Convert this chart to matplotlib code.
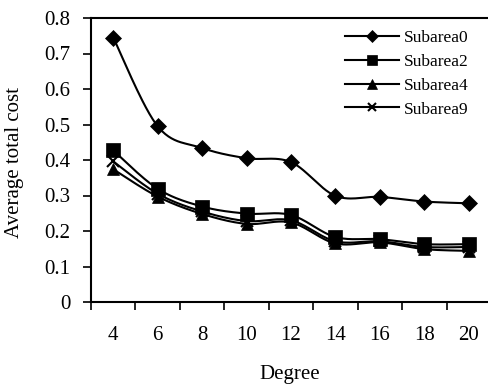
import numpy as np
import matplotlib
matplotlib.use("Agg")
import matplotlib.pyplot as plt
from matplotlib.lines import Line2D

categories = ["4", "6", "8", "10", "12", "14", "16", "18", "20"]
subarea0 = [0.745, 0.495, 0.434, 0.405, 0.394, 0.299, 0.296, 0.283, 0.278]
subarea2 = [0.427, 0.319, 0.269, 0.249, 0.245, 0.183, 0.177, 0.163, 0.163]
subarea4 = [0.374, 0.297, 0.248, 0.220, 0.224, 0.165, 0.168, 0.149, 0.144]
subarea9 = [0.396, 0.305, 0.255, 0.228, 0.230, 0.171, 0.171, 0.155, 0.155]
series_names = ["Subarea0", "Subarea2", "Subarea4", "Subarea9"]
yticks = [0, 0.1, 0.2, 0.3, 0.4, 0.5, 0.6, 0.7, 0.8]
ytick_labels = ["0", "0.1", "0.2", "0.3", "0.4", "0.5", "0.6", "0.7", "0.8"]

plt.rcParams['font.family'] = ['Liberation Serif', 'DejaVu Serif']


def smooth(x, y, n=30):
    x = np.asarray(x, float)
    y = np.asarray(y, float)
    px = np.concatenate([[x[0]], x, [x[-1]]])
    py = np.concatenate([[y[0]], y, [y[-1]]])
    xs, ys = [], []
    for i in range(1, len(px) - 2):
        p0 = np.array([px[i], py[i]])
        p3 = np.array([px[i + 1], py[i + 1]])
        c1 = p0 + (np.array([px[i + 1], py[i + 1]]) - np.array([px[i - 1], py[i - 1]])) / 6
        c2 = p3 - (np.array([px[i + 2], py[i + 2]]) - np.array([px[i], py[i]])) / 6
        t = np.linspace(0, 1, n)[:, None]
        b = (1 - t) ** 3 * p0 + 3 * (1 - t) ** 2 * t * c1 + 3 * (1 - t) * t ** 2 * c2 + t ** 3 * p3
        xs.append(b[:, 0])
        ys.append(b[:, 1])
    return np.concatenate(xs), np.concatenate(ys)


W, H = 488, 387
fig = plt.figure(figsize=(W / 100, H / 100), dpi=100)
left, right, top, bottom = 91, 491, 18, 302
ax = fig.add_axes([left / W, (H - bottom) / H, (right - left) / W, (bottom - top) / H])

x = np.arange(len(categories))
styles = [
    (subarea0, 'D', 8),
    (subarea2, 's', 9.5),
    (subarea4, '^', 9),
    (subarea9, 'x', 8),
]
handles = []
for (vals, m, ms), name in zip(styles, series_names):
    sx, sy = smooth(x, vals)
    ax.plot(sx, sy, color='black', lw=1.5, zorder=2)
    ax.plot(x, vals, linestyle='none', marker=m, markersize=ms, color='black',
            markeredgewidth=1.5 if m == 'x' else 0.5, zorder=3)
    handles.append(Line2D([], [], color='black', lw=1.5, marker=m,
                          markersize=ms * 0.75, markeredgewidth=1.5 if m == 'x' else 0.5,
                          label=name))

ax.set_xlim(-0.5, len(categories) - 0.5)
ax.set_ylim(0, 0.8)
ax.set_yticks(yticks)
ax.set_yticklabels(ytick_labels, fontsize=15)
ax.set_xticks(x)
ax.set_xticklabels(categories, fontsize=15)
ax.tick_params(axis='x', length=0, pad=17)
ax.set_xticks(np.arange(len(categories)) - 0.5, minor=True)
ax.tick_params(axis='x', which='minor', length=6, width=1.2, direction='out')
ax.tick_params(axis='y', length=6, width=1.2, direction='out', pad=9)
for s in ['left', 'bottom', 'top']:
    ax.spines[s].set_linewidth(1.5)
ax.spines['right'].set_visible(False)

fig.text(290 / W, 1 - 375 / H, "Degree", fontsize=15, ha='center', va='center')
fig.text(15 / W, 1 - 163 / H, "Average total cost", rotation=90, fontsize=15,
         ha='center', va='center')

leg = ax.legend(handles=handles, loc='upper left',
                bbox_to_anchor=((345 - left) / (right - left), 1 - (30 - top) / (bottom - top)),
                frameon=False, fontsize=12.5, handlelength=3.1, labelspacing=0.44,
                handletextpad=0.3, borderaxespad=0, borderpad=0)

fig.savefig("out.png", dpi=100)
